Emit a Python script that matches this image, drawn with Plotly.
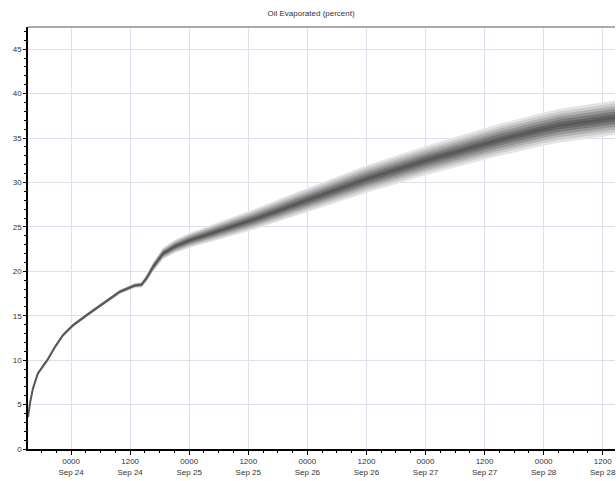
import plotly.graph_objects as go
import pandas as pd

# Best-guess oil evaporated (percent)
times = ["2008-09-23 15:15", "2008-09-23 15:40", "2008-09-23 16:15", "2008-09-23 17:15",
         "2008-09-23 19:10", "2008-09-23 20:45", "2008-09-23 22:20", "2008-09-24 00:20",
         "2008-09-24 03:15", "2008-09-24 06:30", "2008-09-24 09:55", "2008-09-24 12:55",
         "2008-09-24 14:20", "2008-09-24 15:25", "2008-09-24 16:40", "2008-09-24 18:40",
         "2008-09-24 21:05", "2008-09-25 00:10", "2008-09-25 06:15", "2008-09-25 12:55",
         "2008-09-25 22:25", "2008-09-26 12:05", "2008-09-27 00:15", "2008-09-27 15:05",
         "2008-09-27 23:10", "2008-09-28 03:15", "2008-09-28 14:40"]
best = [3.6, 5.2, 6.8, 8.5, 10.0, 11.5, 12.8, 13.9, 15.1, 16.4, 17.7, 18.4,
        18.5, 19.3, 20.5, 22.0, 22.8, 23.5, 24.6, 25.8, 27.7, 30.4, 32.5, 34.8,
        35.9, 36.4, 37.3]
# half-width of the uncertainty band (percent)
spread = [0.22, 0.22, 0.22, 0.22, 0.22, 0.22, 0.22, 0.22, 0.22, 0.22, 0.24, 0.27,
          0.32, 0.42, 0.55, 0.65, 0.75, 0.85, 1.0, 1.15, 1.35, 1.55, 1.65, 1.8,
          1.85, 1.9, 1.95]

tick_vals = ["2008-09-24 00:00", "2008-09-24 12:00", "2008-09-25 00:00", "2008-09-25 12:00",
             "2008-09-26 00:00", "2008-09-26 12:00", "2008-09-27 00:00", "2008-09-27 12:00",
             "2008-09-28 00:00", "2008-09-28 12:00"]
tick_text = ["0000<br>Sep 24", "1200<br>Sep 24", "0000<br>Sep 25", "1200<br>Sep 25",
             "0000<br>Sep 26", "1200<br>Sep 26", "0000<br>Sep 27", "1200<br>Sep 27",
             "0000<br>Sep 28", "1200<br>Sep 28"]
y_ticks = [0, 5, 10, 15, 20, 25, 30, 35, 40, 45]

t = pd.to_datetime(times)
fig = go.Figure()

layers = [(1.0, "rgb(228,228,228)"), (0.84, "rgb(205,205,205)"), (0.68, "rgb(178,178,178)"),
          (0.52, "rgb(150,150,150)"), (0.36, "rgb(122,122,122)"), (0.2, "rgb(100,100,100)")]
for frac, col in layers:
    upper = [b + s * frac for b, s in zip(best, spread)]
    lower = [b - s * frac for b, s in zip(best, spread)]
    xs = list(t) + list(t[::-1])
    ys = upper + lower[::-1]
    fig.add_trace(go.Scatter(x=xs, y=ys, fill="toself", fillcolor=col, mode="lines",
                             line=dict(width=0, color=col), hoverinfo="skip", showlegend=False))

fig.add_trace(go.Scatter(x=t, y=best, mode="lines", line=dict(color="rgb(88,88,88)", width=2),
                         showlegend=False))

fig.update_layout(
    width=616, height=481,
    margin=dict(l=28, r=1, t=27, b=32),
    paper_bgcolor="white", plot_bgcolor="white",
    title=dict(text="Oil Evaporated (percent)", x=0.505, xanchor="center", y=0.972, yanchor="middle",
               font=dict(family="Liberation Sans, Arial", size=8, color="#333")),
    font=dict(family="Liberation Sans, Arial", size=8, color="#333"),
    showlegend=False,
)
fig.update_xaxes(
    type="date", range=["2008-09-23 15:15", "2008-09-28 14:30"],
    tickmode="array", tickvals=tick_vals, ticktext=tick_text,
    showgrid=True, gridcolor="rgb(222,222,236)", gridwidth=1,
    showline=True, linecolor="black", linewidth=1.5,
    ticks="outside", ticklen=4, tickcolor="black",
    minor=dict(dtick=3 * 3600 * 1000, ticks="outside", ticklen=2, tickcolor="black", showgrid=False),
    zeroline=False, tickfont=dict(size=8, color="#333"),
)
fig.update_yaxes(
    range=[0, 47.5], tickmode="array", tickvals=y_ticks,
    showgrid=True, gridcolor="rgb(222,222,236)", gridwidth=1,
    showline=True, linecolor="black", linewidth=1.5,
    ticks="outside", ticklen=3, tickcolor="black",
    minor=dict(dtick=1, ticks="outside", ticklen=2, tickcolor="black", showgrid=False),
    zeroline=False, tickfont=dict(size=8, color="#333"),
)
fig.add_shape(type="line", xref="paper", yref="paper", x0=0, x1=1, y0=1, y1=1,
              line=dict(color="rgb(170,170,170)", width=2))

fig.write_html("out.html")
